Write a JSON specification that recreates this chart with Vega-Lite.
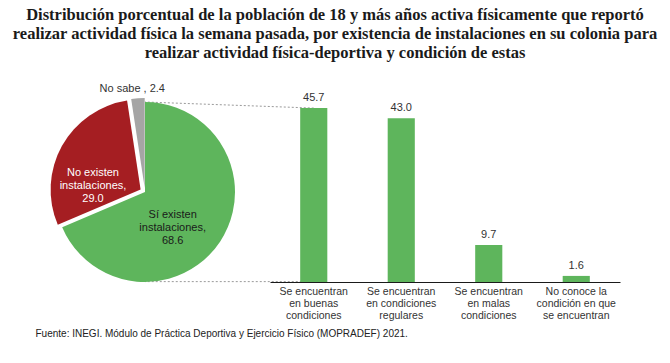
{
  "$schema": "https://vega.github.io/schema/vega-lite/v6.json",
  "autosize": "none",
  "width": 290,
  "height": 180,
  "padding": {"left": 0, "top": 102, "right": 380, "bottom": 81},
  "background": "white",
  "config": {"view": {"stroke": null}, "font": "Liberation Sans"},
  "title": {
    "text": [
      "Distribución porcentual de la población de 18 y más años activa físicamente que reportó",
      "realizar actividad física la semana pasada, por existencia de instalaciones en su colonia para",
      "realizar actividad física-deportiva y condición de estas"
    ],
    "anchor": "middle",
    "dx": 190,
    "font": "Liberation Sans Narrow",
    "fontSize": 16.5,
    "fontWeight": "bold",
    "lineHeight": 19,
    "offset": 22,
    "color": "#1a1a1a"
  },
  "datasets": {
    "pie": [
      {"cat": "Sí existen", "pct": 68.6, "ord": 1, "label": "Sí existen\ninstalaciones,\n68.6"},
      {"cat": "No existen", "pct": 29.0, "ord": 2, "label": "No existen\ninstalaciones,\n29.0"},
      {"cat": "No sabe", "pct": 2.4, "ord": 3, "label": "No sabe , 2.4"}
    ],
    "bars": [
      {"cond": "Se encuentran\nen buenas\ncondiciones", "pct": 45.7, "ord": 1},
      {"cond": "Se encuentran\nen condiciones\nregulares", "pct": 43.0, "ord": 2},
      {"cond": "Se encuentran\nen malas\ncondiciones", "pct": 9.7, "ord": 3},
      {"cond": "No conoce la\ncondición en que\nse encuentran", "pct": 1.6, "ord": 4}
    ]
  },
  "layer": [
    {
      "data": {"name": "bars"},
      "transform": [{"filter": "datum.ord == 1"}],
      "mark": {"type": "rule", "stroke": "#9a9a9a", "strokeDash": [2, 2], "strokeWidth": 1},
      "encoding": {
        "x": {"field": "cond", "type": "nominal", "sort": null},
        "x2": {"value": {"expr": "width/2"}},
        "y": {"field": "pct", "type": "quantitative", "axis": null},
        "y2": {"datum": 47.3}
      }
    },
    {
      "data": {"name": "bars"},
      "transform": [{"filter": "datum.ord == 1"}],
      "mark": {"type": "rule", "stroke": "#9a9a9a", "strokeDash": [2, 2], "strokeWidth": 1},
      "encoding": {
        "x": {"field": "cond", "type": "nominal", "sort": null},
        "x2": {"value": {"expr": "width/2"}},
        "y": {"datum": 0.1, "type": "quantitative", "axis": null}
      }
    },
    {
      "data": {"name": "pie"},
      "mark": {"type": "arc", "outerRadius": 90},
      "encoding": {
        "theta": {"field": "pct", "type": "quantitative", "stack": true},
        "order": {"field": "ord"},
        "color": {"field": "cat", "type": "nominal", "scale": {"domain": ["Sí existen", "No existen", "No sabe"], "range": ["#5EB55C", "#A51E22", "#A5A5A5"]}, "legend": null},
        "opacity": {"condition": {"test": "datum.cat === 'Sí existen'", "value": 1}, "value": 0}
      }
    },
    {
      "data": {"name": "pie"},
      "mark": {"type": "arc", "outerRadius": 90, "xOffset": -4.4, "yOffset": -2.4},
      "encoding": {
        "theta": {"field": "pct", "type": "quantitative", "stack": true},
        "order": {"field": "ord"},
        "color": {"field": "cat", "type": "nominal", "legend": null},
        "opacity": {"condition": {"test": "datum.cat === 'No existen'", "value": 1}, "value": 0}
      }
    },
    {
      "data": {"name": "pie"},
      "mark": {"type": "arc", "outerRadius": 90, "xOffset": -0.3, "yOffset": -4},
      "encoding": {
        "theta": {"field": "pct", "type": "quantitative", "stack": true},
        "order": {"field": "ord"},
        "color": {"field": "cat", "type": "nominal", "legend": null},
        "opacity": {"condition": {"test": "datum.cat === 'No sabe'", "value": 1}, "value": 0}
      }
    },
    {
      "data": {"name": "pie"},
      "mark": {"type": "text", "radius": 38, "dx": -4, "dy": 2, "fontSize": 11, "color": "#1a1a1a", "lineBreak": "\n", "lineHeight": 13},
      "encoding": {
        "theta": {"field": "pct", "type": "quantitative", "stack": true},
        "order": {"field": "ord"},
        "detail": {"field": "cat"},
        "text": {"condition": {"test": "datum.cat === 'Sí existen'", "field": "label"}, "value": ""}
      }
    },
    {
      "data": {"name": "pie"},
      "mark": {"type": "text", "radius": 52, "dx": -6.6, "dy": 6.4, "fontSize": 11, "color": "#ffffff", "lineBreak": "\n", "lineHeight": 13},
      "encoding": {
        "theta": {"field": "pct", "type": "quantitative", "stack": true},
        "order": {"field": "ord"},
        "detail": {"field": "cat"},
        "text": {"condition": {"test": "datum.cat === 'No existen'", "field": "label"}, "value": ""}
      }
    },
    {
      "data": {"name": "pie"},
      "mark": {"type": "text", "radius": 103, "dx": -5, "fontSize": 11, "color": "#333333"},
      "encoding": {
        "theta": {"field": "pct", "type": "quantitative", "stack": true},
        "order": {"field": "ord"},
        "detail": {"field": "cat"},
        "text": {"condition": {"test": "datum.cat === 'No sabe'", "field": "label"}, "value": ""}
      }
    },
    {
      "data": {"name": "bars"},
      "mark": {"type": "bar", "color": "#5EB55C"},
      "encoding": {
        "x": {
          "field": "cond", "type": "nominal", "sort": null,
          "scale": {"range": [270, 620], "paddingInner": 0.69, "paddingOuter": 0.345},
          "axis": {
            "labelExpr": "split(datum.label, '\\n')",
            "labelAngle": 0,
            "labelAlign": "center",
            "bandPosition": 0.5,
            "labelFontSize": 10.5,
            "labelLineHeight": 12.3,
            "labelColor": "#333333",
            "labelPadding": 4,
            "labelBaseline": "top",
            "ticks": false,
            "domain": true,
            "domainWidth": 1,
            "domainColor": "#1a1a1a",
            "zindex": 1,
            "title": "Fuente: INEGI. Módulo de Práctica Deportiva y Ejercicio Físico (MOPRADEF) 2021.",
            "titleX": 35,
            "titleY": 51,
            "titleAlign": "left",
            "titleBaseline": "middle",
            "titleFontWeight": "normal",
            "titleFontSize": 10,
            "titleColor": "#222222"
          }
        },
        "y": {"field": "pct", "type": "quantitative", "scale": {"domain": [0, 47.3], "nice": false}, "axis": null}
      }
    },
    {
      "data": {"name": "bars"},
      "mark": {"type": "text", "baseline": "bottom", "dy": -5, "fontSize": 11, "color": "#333333"},
      "encoding": {
        "x": {"field": "cond", "type": "nominal", "sort": null},
        "y": {"field": "pct", "type": "quantitative", "axis": null},
        "text": {"field": "pct", "type": "quantitative", "format": ".1f"}
      }
    }
  ]
}
